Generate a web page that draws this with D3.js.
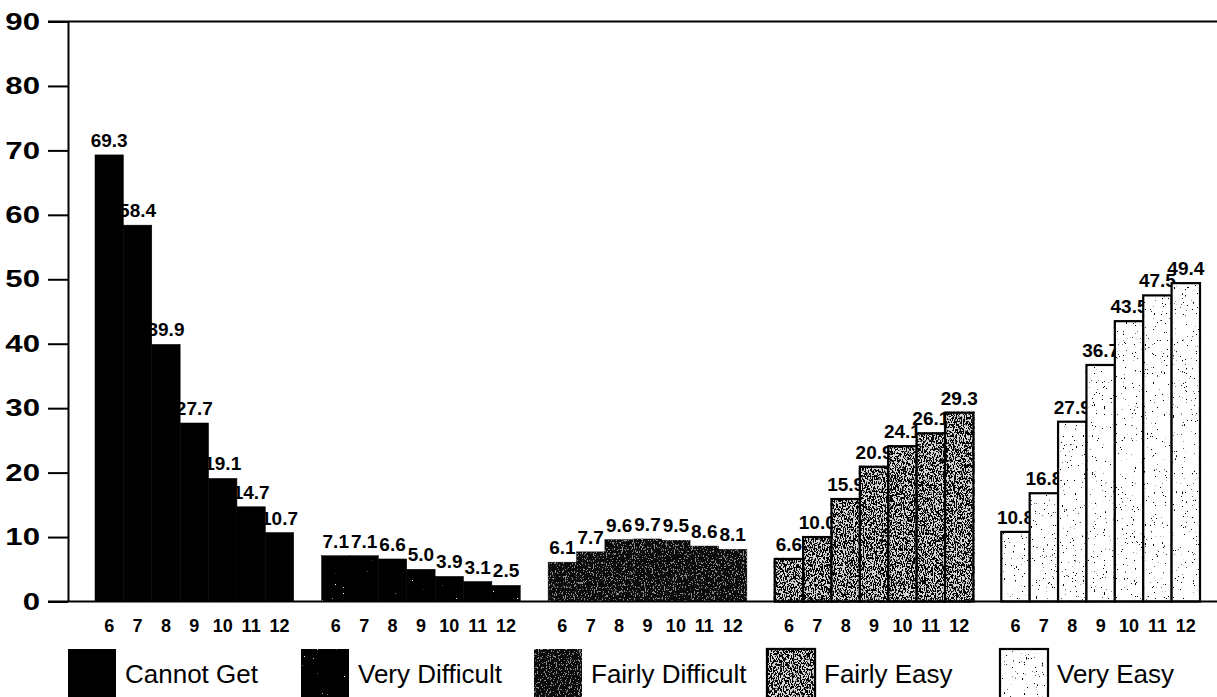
<!DOCTYPE html>
<meta charset="utf-8">
<style>
body { margin: 0; background: #fff; }
svg { font-family: "Liberation Sans", Arial, Helvetica, sans-serif; display: block; }
</style>
<svg width="1217" height="697"></svg>
<script src="https://cdn.jsdelivr.net/npm/d3@7"></script>
<script>
// data (percent, by grade)
var grades = ["6", "7", "8", "9", "10", "11", "12"];
var categories = ["Cannot Get", "Very Difficult", "Fairly Difficult", "Fairly Easy", "Very Easy"];
var cannotGet = [69.3, 58.4, 39.9, 27.7, 19.1, 14.7, 10.7];
var veryDifficult = [7.1, 7.1, 6.6, 5.0, 3.9, 3.1, 2.5];
var fairlyDifficult = [6.1, 7.7, 9.6, 9.7, 9.5, 8.6, 8.1];
var fairlyEasy = [6.6, 10.0, 15.9, 20.9, 24.1, 26.1, 29.3];
var veryEasy = [10.8, 16.8, 27.9, 36.7, 43.5, 47.5, 49.4];
var yTicks = [0, 10, 20, 30, 40, 50, 60, 70, 80, 90];

var seriesValues = [cannotGet, veryDifficult, fairlyDifficult, fairlyEasy, veryEasy];

// texture for each category: base fill, speck colour, threshold, border
var looks = [
  { base: "#000", dot: "#000", t: 2, border: false },
  { base: "#000", dot: "#fff", t: 0.8, border: false },
  { base: "#0a0a0a", dot: "#8c8c8c", t: 0.6, border: false },
  { base: "#d6d6d6", dot: "#000", t: 0.48, border: true },
  { base: "#fff", dot: "#000", t: 0.71, border: true }
];

var svg = d3.select("svg"),
    width = 1217,
    height = 697;

var defs = svg.append("defs");

looks.forEach(function(l, i) {
  var c = d3.color(l.dot);
  var f = defs.append("filter")
      .attr("id", "tex" + i)
      .attr("color-interpolation-filters", "sRGB");
  f.append("feTurbulence")
      .attr("type", "fractalNoise")
      .attr("baseFrequency", "1.1 0.45")
      .attr("numOctaves", 2)
      .attr("seed", 3 + i)
      .attr("result", "noise");
  f.append("feColorMatrix")
      .attr("in", "noise")
      .attr("type", "matrix")
      .attr("values", [0, 0, 0, 0, c.r / 255,
                       0, 0, 0, 0, c.g / 255,
                       0, 0, 0, 0, c.b / 255,
                       25, 0, 0, 0, -25 * l.t].join(" "))
      .attr("result", "dots");
  f.append("feComposite")
      .attr("in", "dots")
      .attr("in2", "SourceAlpha")
      .attr("operator", "in")
      .attr("result", "clipped");
  var m = f.append("feMerge");
  m.append("feMergeNode").attr("in", "SourceGraphic");
  m.append("feMergeNode").attr("in", "clipped");
});

var rows = [];
categories.forEach(function(cat, i) {
  grades.forEach(function(g, j) {
    rows.push({ cat: cat, idx: i, grade: g, value: seriesValues[i][j] });
  });
});

var x0 = d3.scaleBand()
    .domain(categories)
    .range([95, 1200])
    .paddingInner(0.123);

var x1 = d3.scaleBand()
    .domain(grades)
    .range([0, x0.bandwidth()]);

var y = d3.scaleLinear()
    .domain([0, 90])
    .range([601.5, 21.5]);

// y axis
var yAxis = svg.append("g")
    .attr("transform", "translate(68,0)")
    .call(d3.axisLeft(y).tickValues(yTicks).tickSize(20).tickSizeOuter(0).tickPadding(8));

yAxis.select(".domain").attr("stroke-width", 2);
yAxis.selectAll(".tick line").attr("stroke-width", 2);
yAxis.selectAll(".tick text")
    .attr("x", 0)
    .attr("transform", "translate(-28,0) scale(1.3,1)")
    .attr("font-size", 24)
    .attr("font-weight", "bold")
    .attr("font-family", "'Liberation Sans', Arial, sans-serif")
    .attr("fill", "#000");

// grade labels under each group
categories.forEach(function(cat) {
  var ax = svg.append("g")
      .attr("transform", "translate(" + x0(cat) + "," + y(0) + ")")
      .call(d3.axisBottom(x1).tickSize(0).tickPadding(18));
  ax.select(".domain").remove();
  ax.selectAll("text")
      .attr("font-size", 18)
      .attr("font-weight", "bold")
      .attr("font-family", "'Liberation Sans', Arial, sans-serif")
      .attr("fill", "#000");
});

// value labels go under the bars so neighbours can hide them
svg.append("g").selectAll("text")
    .data(rows)
    .enter().append("text")
    .attr("x", function(d) { return x0(d.cat) + x1(d.grade) + x1.bandwidth() / 2; })
    .attr("y", function(d) { return y(d.value) - 8; })
    .attr("text-anchor", "middle")
    .attr("font-size", 19)
    .attr("font-weight", "bold")
    .text(function(d) { return d.value.toFixed(1); });

svg.append("g").selectAll("rect")
    .data(rows)
    .enter().append("rect")
    .attr("x", function(d) { return x0(d.cat) + x1(d.grade); })
    .attr("y", function(d) { return y(d.value); })
    .attr("width", x1.bandwidth())
    .attr("height", function(d) { return y(0) - y(d.value); })
    .attr("fill", function(d) { return looks[d.idx].base; })
    .attr("stroke", "#000")
    .attr("stroke-width", function(d) { return looks[d.idx].border ? 2.2 : 0.5; })
    .attr("filter", function(d) { return "url(#tex" + d.idx + ")"; });

// top frame line and baseline
svg.append("g").selectAll("line")
    .data([0, 90])
    .enter().append("line")
    .attr("x1", 48)
    .attr("x2", width)
    .attr("y1", function(d) { return y(d); })
    .attr("y2", function(d) { return y(d); })
    .attr("stroke", "#000")
    .attr("stroke-width", 2.2);

// legend
var legend = svg.append("g").selectAll("g")
    .data(categories)
    .enter().append("g")
    .attr("transform", function(d, i) { return "translate(" + (68 + i * 233) + ",649)"; });

legend.append("rect")
    .attr("width", 48)
    .attr("height", 60)
    .attr("fill", function(d, i) { return looks[i].base; })
    .attr("stroke", "#000")
    .attr("stroke-width", function(d, i) { return looks[i].border ? 2.2 : 0; })
    .attr("filter", function(d, i) { return "url(#tex" + i + ")"; });

legend.append("text")
    .attr("x", 57)
    .attr("y", 34)
    .attr("font-size", 26)
    .text(function(d) { return d; });
</script>
